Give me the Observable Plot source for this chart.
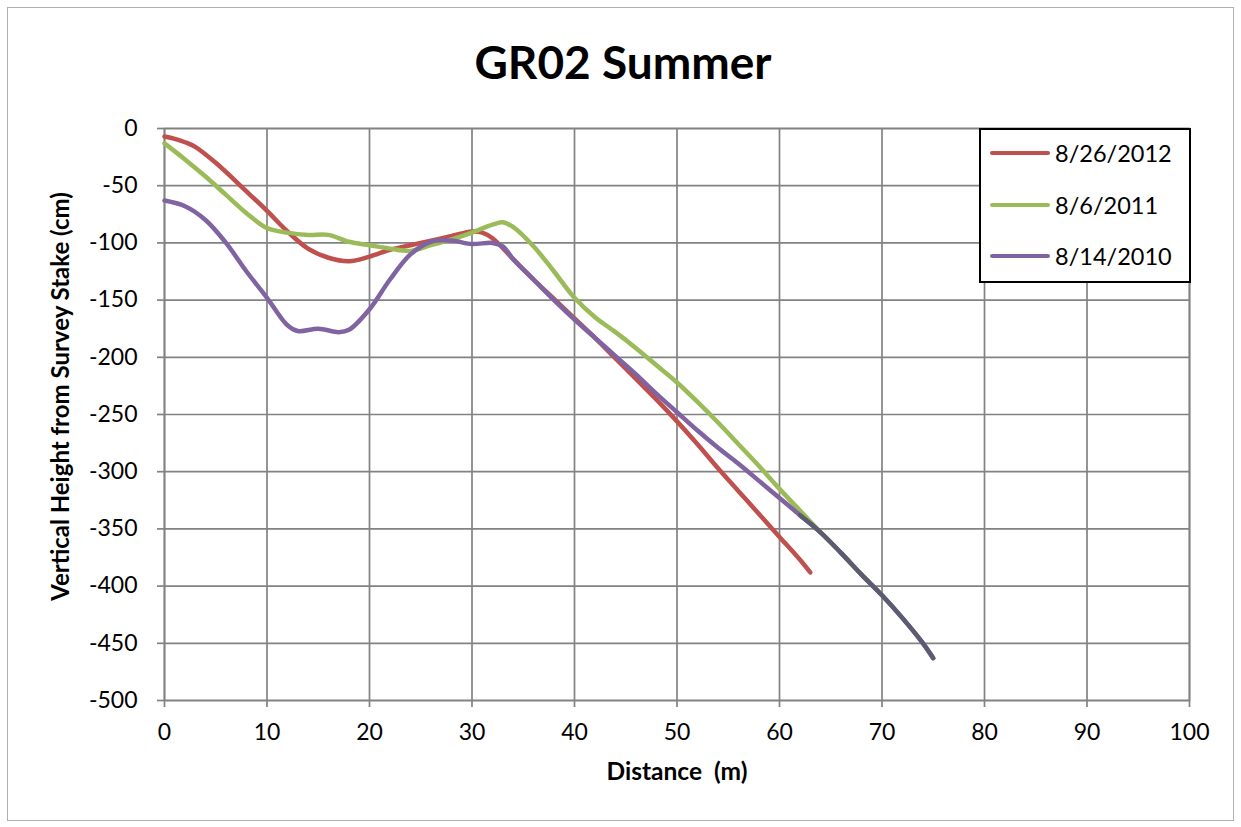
<!DOCTYPE html>
<html>
<head>
<meta charset="utf-8">
<script src="https://cdn.jsdelivr.net/npm/d3@7"></script>
<script src="https://cdn.jsdelivr.net/npm/@observablehq/plot@0.6"></script>
<style>
  html, body { margin: 0; padding: 0; background: #fff; }
  #wrap { position: relative; width: 1241px; height: 827px; overflow: hidden; font-family: Lato, "Open Sans", sans-serif; }
  #border { position: absolute; left: 7px; top: 7px; width: 1227px; height: 814px; border: 1.5px solid #b0b0b0; box-sizing: border-box; }
  #title { position: absolute; left: 0; top: 36px; width: 1246px; text-align: center; font-weight: 700; font-size: 46px; line-height: 52px; color: #000; }
  #chart { position: absolute; left: 0; top: 100px; }
  #legend { position: absolute; left: 979px; top: 128px; width: 212px; height: 155px; border: 2px solid #000; box-sizing: border-box; background: #fff; }
  .item { position: absolute; left: 9px; height: 28px; display: flex; align-items: center; font-size: 23.5px; color: #000; }
  .swatch { width: 60px; height: 4.5px; border-radius: 2px; margin-right: 5px; }
</style>
</head>
<body>
<div id="wrap">
  <div id="border"></div>
  <div id="title">GR02 Summer</div>
  <div id="chart"></div>
  <div id="legend"></div>
</div>
<script>
// Series names and colours
const seriesNames = ["8/26/2012", "8/6/2011", "8/14/2010"];
const seriesColors = ["#c0504d", "#9bbb59", "#8064a2"];
const tailColor = "#5c5c70";

// 8/26/2012
const dist2012 = [0, 1, 2, 3, 5, 8, 10, 12, 14, 16, 18, 20, 22, 24, 26, 28, 30, 31, 32, 34, 36, 38, 40, 42, 44, 46, 48, 50, 52, 54, 56, 58, 60, 62, 63];
const height2012 = [-7, -9, -12, -16, -30, -55, -72, -90, -105, -113, -116, -112, -106, -102, -98, -94, -90, -91, -96, -114, -132, -149, -166, -183, -201, -219, -237, -256, -276, -297, -317, -337, -357, -377, -388];

// 8/6/2011
const dist2011 = [0, 2, 4, 6, 8, 10, 12, 14, 16, 18, 20, 22, 24, 26, 28, 30, 32, 33, 34, 36, 38, 40, 42, 44, 46, 48, 50, 52, 54, 56, 58, 60, 62, 64];
const height2011 = [-13, -27, -42, -58, -74, -87, -91, -93, -93, -99, -102, -105, -107, -102, -97, -91, -84, -82, -86, -103, -125, -148, -165, -178, -192, -207, -222, -239, -257, -276, -295, -315, -334, -353];

// 8/14/2010
const dist2010 = [0, 2, 4, 6, 8, 10, 12, 13, 15, 17, 18, 20, 22, 24, 26, 28, 30, 32, 33, 34, 36, 38, 40, 42, 44, 46, 48, 50, 52, 54, 56, 58, 60, 62, 64, 66, 68, 70, 72, 74, 75];
const height2010 = [-63, -68, -80, -100, -125, -148, -172, -177, -175, -178, -176, -158, -132, -110, -99, -98, -101, -100, -103, -114, -132, -150, -167, -183, -199, -215, -232, -248, -264, -279, -293, -308, -323, -338, -353, -371, -390, -408, -428, -450, -463];

// Axis ticks
const xTicks = [0, 10, 20, 30, 40, 50, 60, 70, 80, 90, 100];
const yTicks = [0, -50, -100, -150, -200, -250, -300, -350, -400, -450, -500];
const xTitle = "Distance  (m)";
const yTitle = "Vertical Height from Survey Stake (cm)";

const dists = [dist2012, dist2011, dist2010];
const heights = [height2012, height2011, height2010];
const rows = [];
seriesNames.forEach((s, i) => dists[i].forEach((d, j) => rows.push({series: s, x: d, y: heights[i][j]})));
const tail = rows.filter(r => r.series === "8/14/2010" && r.x >= 62);

const grid = "#828282";
const chart = Plot.plot({
  width: 1241,
  height: 720,
  marginLeft: 164,
  marginRight: 52,
  marginTop: 28,
  marginBottom: 120,
  style: {fontFamily: "Lato, 'Open Sans', sans-serif", fontSize: "23px", color: "#000", background: "transparent", overflow: "visible"},
  x: {domain: [0, 100]},
  y: {domain: [-500, 0]},
  color: {domain: seriesNames, range: seriesColors},
  marks: [
    Plot.gridX(xTicks, {stroke: grid, strokeOpacity: 1, strokeWidth: 1.7}),
    Plot.gridY(yTicks, {stroke: grid, strokeOpacity: 1, strokeWidth: 1.7}),
    Plot.frame({stroke: grid, strokeWidth: 1.7}),
    Plot.axisX(xTicks, {tickSize: 7, tickPadding: 16, stroke: grid, strokeWidth: 1.7, fill: "#000", label: null, tickFormat: d => String(d)}),
    Plot.axisY(yTicks, {tickSize: 7, tickPadding: 20, stroke: grid, strokeWidth: 1.7, fill: "#000", label: null, tickFormat: d => String(d)}),
    Plot.line(rows, {x: "x", y: "y", z: "series", stroke: "series", strokeWidth: 4.5, curve: "catmull-rom"}),
    Plot.line(tail, {x: "x", y: "y", stroke: tailColor, strokeWidth: 4.5, curve: "catmull-rom"}),
    Plot.text([xTitle], {frameAnchor: "bottom", dy: 79, text: d => d, fontWeight: "bold", fontSize: 24.5}),
    Plot.text([yTitle], {frameAnchor: "left", rotate: -90, textAnchor: "middle", dx: -103, dy: -18, text: d => d, fontWeight: "bold", fontSize: 24})
  ]
});
document.getElementById("chart").appendChild(chart);

// Legend
const legend = document.getElementById("legend");
const tops = [9, 61, 112];
seriesNames.forEach((s, i) => {
  const it = document.createElement("div");
  it.className = "item";
  it.style.top = tops[i] + "px";
  it.innerHTML = `<span class="swatch" style="background:${seriesColors[i]}"></span><span>${s}</span>`;
  legend.appendChild(it);
});
</script>
</body>
</html>
